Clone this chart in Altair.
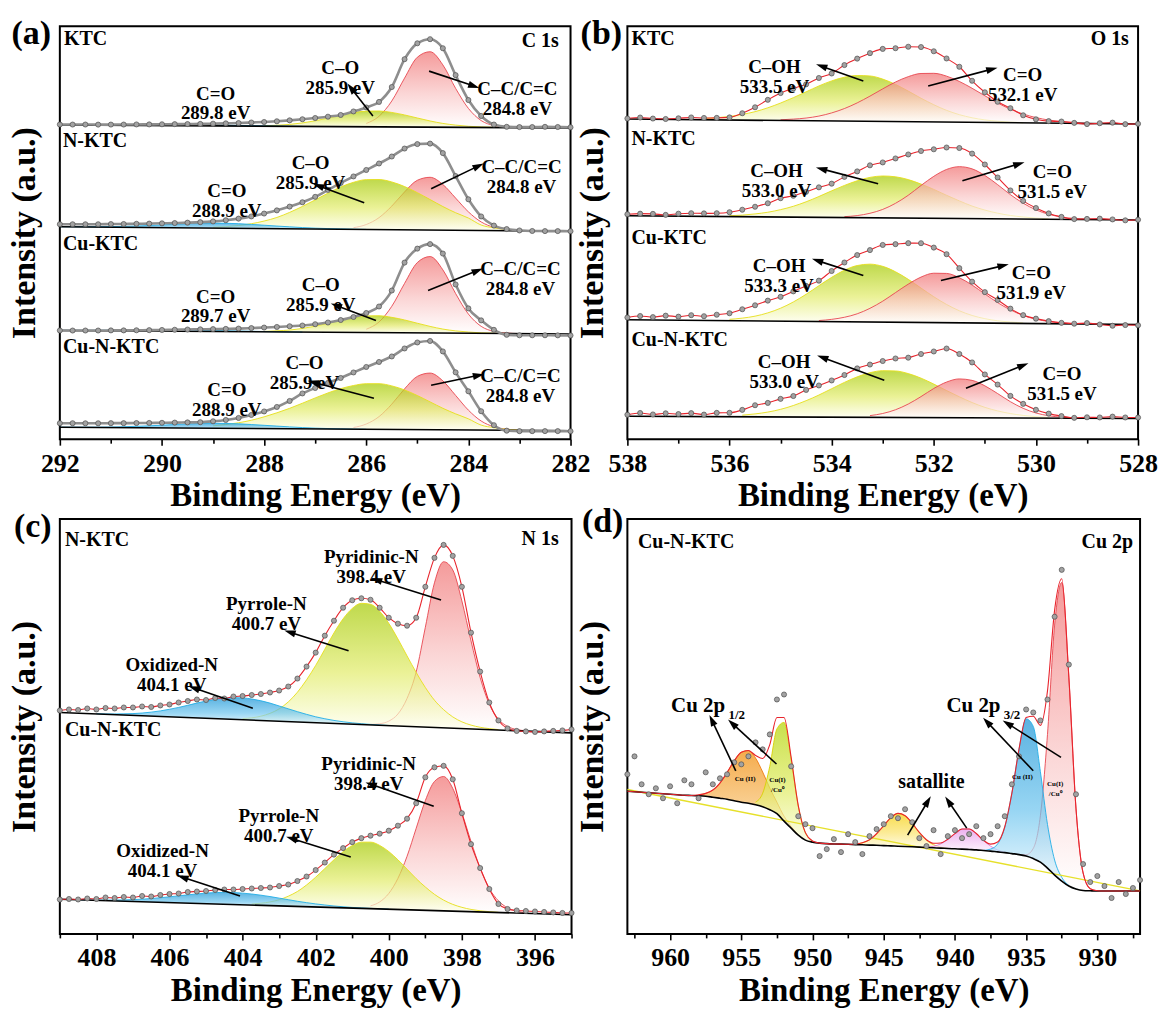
import math
import altair as alt
import pandas as pd

FONT = "Liberation Serif"

# ============ (a) C 1s  : grid 292 -> 282, step 0.25 eV ============
C1S_START, C1S_STEP = 292.0, 0.25
C1S_TICKS = list(range(282, 293))
C1S = {
    "KTC": {
        "bg": (292.0, 315.0, 282.0, 312.0),
        "meas": [0.5, 0.5, 0.6, 0.6, 0.7, 0.8, 1.0, 1.1, 1.3, 1.5, 1.7, 1.9, 2.2, 2.6, 3.0, 3.6, 4.2, 5.0, 6.0, 7.2,
                 8.5, 9.9, 11.7, 15.3, 19.4, 25.0, 40.0, 68.0, 84.0, 88.2, 79.2, 52.3, 27.4, 11.5, 3.0, 0.8, 0.6, 0.7,
                 1.0, 0.9, 0.7],
        "comps": {
            "red": (286.0, [3.3, 10.6, 26, 49, 70, 75.6, 62.5, 39, 19, 6.9, 2, 0.5, 0]),
            "green": (288.0, [0.4, 1, 1.9, 3.5, 5.7, 8.5, 11.5, 14.1, 15.7, 15.9, 14.5, 12.1, 9.1, 6.2, 3.8, 2.2, 1.1,
                              0.5, 0.2, 0]),
            "blue": (292.0, [0.1, 0.2, 0.3, 0.4, 0.6, 0.8, 1.0, 1.1, 1.2, 1.2, 1.2, 1.1, 1.0, 0.8, 0.6, 0.5, 0.3, 0.2,
                             0.1, 0]),
        },
    },
    "N-KTC": {
        "bg": (292.0, 213.0, 282.0, 208.5),
        "meas": [2.5, 2.6, 2.7, 2.8, 3.1, 3.3, 3.6, 3.9, 4.3, 4.7, 5.2, 5.8, 6.7, 8.0, 9.7, 12, 15, 18.3, 22.2, 26.7,
                 32.2, 39.3, 46.4, 53, 59.6, 66.2, 73.3, 81.4, 86, 86.6, 77.2, 54.3, 31.1, 14, 5, 1.6, 0.3, -0.1, -0.1,
                 0, 0],
        "comps": {
            "red": (286.25, [1.6, 4.9, 11.9, 23.6, 37.9, 49.7, 52.8, 45.7, 32.2, 18.5, 8.5, 3.2, 1, 0.2]),
            "green": (289.0, [0.9, 1.5, 2.8, 4.7, 7.5, 11.2, 16.4, 22.5, 29.1, 36, 42.3, 47.1, 49.9, 50.1, 47.8, 43.3,
                              37.3, 30.5, 23.6, 17.5, 12.3, 5.4, 2.7, 1.1, 0.3]),
            "blue": (292.0, [0, 0.1, 0.2, 0.3, 0.55, 0.9, 1.4, 2.0, 2.7, 3.5, 4.2, 4.7, 5, 4.9, 4.6, 4.0, 3.3, 2.6, 1.9,
                             1.3, 0.8, 0.5, 0.3, 0.1, 0]),
        },
    },
    "Cu-KTC": {
        "bg": (292.0, 109.0, 282.0, 105.5),
        "meas": [0, 0, 0.1, 0.2, 0.4, 0.5, 0.7, 0.9, 1.2, 1.5, 1.8, 2.1, 2.4, 2.7, 3.1, 3.7, 4.3, 5.0, 5.8, 6.6, 8.0,
                 9.8, 12.4, 15.5, 19.6, 26.2, 42.3, 70.4, 84.5, 89.1, 79.7, 48.8, 24.9, 13, 3.6, -1.3, -1.7, -1.6,
                 -1.5, -1.5, -1.5],
        "comps": {
            "red": (286.0, [3.3, 10.7, 26.5, 49.5, 70.5, 76.6, 63.4, 39.7, 19.2, 7, 2, 0.5, 0]),
            "green": (288.0, [0.4, 1.1, 2, 3.7, 6, 9, 12.2, 15, 16.7, 16.9, 15.4, 12.9, 9.7, 6.6, 4, 2.3, 1.2, 0.5,
                              0.2, 0]),
            "blue": (292.0, [0.1, 0.2, 0.3, 0.4, 0.6, 0.8, 1.0, 1.1, 1.2, 1.2, 1.2, 1.1, 1.0, 0.8, 0.6, 0.5, 0.3, 0.2,
                             0.1, 0]),
        },
    },
    "Cu-N-KTC": {
        "bg": (292.0, 12.0, 282.0, 8.5),
        "meas": [4, 4.1, 4.1, 4.2, 4.4, 4.5, 4.7, 4.9, 5.1, 5.4, 5.7, 6.0, 7.0, 8.4, 10.5, 13.6, 17.2, 21.8, 27.9, 35.5,
                 41.1, 46.2, 51.3, 56.9, 62.5, 67.6, 73.2, 81.3, 87.4, 89, 78.6, 57.7, 38.8, 18.9, 5, -0.4, -0.8, -0.7,
                 -0.6, -0.5, -0.5],
        "comps": {
            "red": (286.25, [1.7, 5.3, 12.8, 25.4, 40.8, 53.4, 56.8, 49.1, 34.6, 19.9, 9.1, 3.4, 1.1, 0.2]),
            "green": (289.0, [2.4, 3.8, 5.7, 8.3, 11.8, 15.9, 20.5, 25.7, 31.1, 36.2, 40.6, 43.8, 45.7, 45.8, 43.7,
                              39.7, 34.2, 27.9, 21.6, 16.1, 11.2, 5, 2.5, 1, 0.3]),
            "blue": (292.0, [0, 0.1, 0.2, 0.3, 0.55, 0.9, 1.4, 2.0, 2.7, 3.5, 4.2, 4.7, 5, 4.9, 4.6, 4.0, 3.3, 2.6, 1.9,
                             1.3, 0.8, 0.5, 0.3, 0.1, 0]),
        },
    },
}
A_LETTER = [("(a)", 292.56, 406)]
A_SAMPLES = [("KTC", 291.92, 401), ("N-KTC", 291.94, 299), ("Cu-KTC", 291.94, 196), ("Cu-N-KTC", 291.94, 92)]
A_CORE = [("C 1s", 282.23, 399)]
A_PEAKS = [("C–O\n285.9 eV", 286.51, 372.5), ("C=O\n289.8 eV", 288.95, 346.5), ("C–C/C=C\n284.8 eV", 283.04, 351),
           ("C–O\n285.9 eV", 287.09, 276.5), ("C=O\n288.9 eV", 288.73, 249), ("C–C/C=C\n284.8 eV", 282.96, 273),
           ("C–O\n285.9 eV", 286.89, 154.5), ("C=O\n289.7 eV", 288.95, 143), ("C–C/C=C\n284.8 eV", 282.98, 170.5),
           ("C–O\n285.9 eV", 287.21, 76.5), ("C=O\n288.9 eV", 288.73, 49.5), ("C–C/C=C\n284.8 eV", 282.98, 63.5)]
A_ARROWS = [(285.87, 324, 286.30, 352), (284.77, 369, 283.89, 354), (286.04, 237, 286.94, 254),
            (284.73, 251, 283.80, 274), (285.81, 119, 286.59, 134), (284.79, 149, 283.82, 169),
            (285.85, 41, 287.04, 57), (284.73, 54, 283.80, 64)]

# ============ (b) O 1s : grid 538 -> 528, step 0.25 eV ============
O1S_START, O1S_STEP = 538.0, 0.25
O1S_TICKS = list(range(528, 539))
O1S = {
    "KTC": {
        "bg": (538.0, 321.0, 528.0, 316.0),
        "meas": [0.5, 1.6, 0.7, 0.4, 1.2, 2.2, 1.8, 2.0, 2.6, 6.9, 13, 20.6, 27.5, 32.3, 36.5, 43, 47.6, 56.2, 62.8,
                 68.4, 72.8, 73.6, 75.2, 75, 70.9, 63.8, 55.6, 41.7, 30.3, 20.9, 14.6, 7.6, 3.7, 2.0, 1.7, 0.5, -0.6,
                 0.4, 1.1, -0.3, 0.2],
        "comps": {
            "green": (536.5, [1.2, 2.1, 3.6, 5.7, 8.6, 12.6, 17.5, 23, 29, 35, 40.2, 44, 45.8, 45.5, 42.5, 37.3, 30.7,
                              23.7, 17.3, 11.8, 7.6, 4.6, 2.6, 1.4, 0.6, 0.2]),
            "red": (535.0, [0.7, 1.5, 2.7, 4.8, 8.1, 12.6, 18.4, 25.3, 32.7, 39.7, 45.2, 48.5, 48.8, 46.1, 40.9, 34.2,
                            26.8, 19.7, 13.6, 8.9, 5.4, 3.1, 1.7, 0.8, 0.4]),
        },
    },
    "N-KTC": {
        "bg": (538.0, 224.0, 528.0, 219.7),
        "meas": [1.5, 2.2, 2.1, 1.2, 2.5, 3.1, 3.0, 3.3, 4.4, 7.0, 10.1, 13.7, 18.9, 21.4, 25.5, 30.1, 33.9, 40.8,
                 46.4, 52.6, 55.6, 59.7, 63.8, 67.4, 69.2, 71.1, 70.7, 65.2, 54.4, 41.5, 28.6, 18.2, 11.2, 5.9, 2.5,
                 0.4, 0.7, 1.1, 0.4, -0.4, 0.3],
        "comps": {
            "green": (536.0, [0.9, 1.6, 2.9, 4.7, 7.4, 10.9, 15.5, 20.9, 26.7, 32.2, 37, 40.5, 42, 41.3, 38.6, 34.2,
                              29, 23.2, 17.7, 12.6, 8.7, 5.7, 3.5, 2.1, 1.1, 0.5]),
            "red": (533.75, [0.9, 2.1, 4.5, 8.5, 14.7, 22.9, 32.8, 42.1, 49.1, 52, 49.9, 43.4, 34.3, 24.4, 15.9, 9.4,
                             5, 2.4, 1, 0.4]),
        },
    },
    "Cu-KTC": {
        "bg": (538.0, 119.7, 528.0, 115.0),
        "meas": [2.3, 3.9, 2.9, 4.5, 3.6, 5.2, 4.3, 5.9, 7.5, 11.6, 15.7, 20.5, 24.4, 30, 35.6, 41, 50.8, 59.4, 67,
                 72.1, 77.4, 78.3, 79.4, 79.5, 75.2, 68.7, 54.8, 41.4, 31, 23.3, 14.7, 8.3, 4.9, 2.5, 0.9, 0.2, 0.9,
                 -0.4, -1.5, -0.7, -0.8],
        "comps": {
            "green": (536.0, [1.4, 2.7, 4.8, 8.2, 13, 19.4, 27.2, 35.9, 44.4, 51.7, 56.5, 58, 55.9, 50.6, 43.1, 34.5,
                              25.9, 18.3, 12.1, 7.5, 4.4, 2.4, 1.3, 0.6]),
            "red": (534.25, [1, 2.3, 4.5, 8.1, 13.7, 21, 29.7, 38.3, 45.5, 49.5, 49.4, 45.2, 38, 29.2, 20.6, 13.5, 8,
                             4.3, 2.2, 1, 0.4]),
        },
    },
    "Cu-N-KTC": {
        "bg": (538.0, 23.0, 528.0, 20.7),
        "meas": [1.5, 3.3, 1.9, 3.1, 2.4, 3.4, 2.0, 3.8, 3.9, 6.9, 11.6, 14, 18.1, 21, 27.2, 31.7, 36.8, 42.3, 49,
                 52.9, 56.5, 59.1, 60, 63.7, 66.3, 69.3, 63.9, 55.5, 43.5, 33.4, 22.1, 14.2, 8.3, 4.5, 2.1, 0.4, 1,
                 0.9, 1.8, 1, 1],
        "comps": {
            "green": (535.75, [1.6, 2.9, 4.8, 7.6, 11.5, 16.4, 22.1, 28.5, 34.9, 40.5, 44.7, 46.8, 46.6, 44, 39.5,
                               33.6, 27.2, 21, 15.3, 10.5, 7, 4.4, 2.6, 1.4, 0.7]),
            "red": (533.25, [1.7, 3.9, 7.7, 13.5, 21, 29.2, 35.7, 38.9, 37.5, 32.1, 24.4, 16.3, 9.7, 5.1, 2.4, 1,
                             0.3]),
        },
    },
}
B_LETTER = [("(b)", 538.51, 406)]
B_SAMPLES = [("KTC", 537.92, 401), ("N-KTC", 537.92, 301), ("Cu-KTC", 537.92, 202), ("Cu-N-KTC", 537.92, 99)]
B_CORE = [("O 1s", 528.18, 401)]
B_PEAKS = [("C–OH\n533.5 eV", 535.12, 373.5), ("C=O\n532.1 eV", 530.26, 365),
           ("C–OH\n533.0 eV", 535.08, 268.5), ("C=O\n531.5 eV", 529.68, 267.5),
           ("C–OH\n533.3 eV", 535.03, 173.5), ("C=O\n531.9 eV", 530.09, 166.5),
           ("C–OH\n533.0 eV", 534.93, 77.5), ("C=O\n531.5 eV", 529.49, 65.5)]
B_ARROWS = [(533.38, 359, 534.20, 374), (532.11, 354, 530.86, 371), (533.09, 256, 534.20, 271),
            (531.44, 259, 530.33, 276), (533.38, 164, 534.28, 179), (531.86, 159, 530.64, 174),
            (532.97, 59, 534.18, 82), (531.37, 51, 530.25, 74)]

# ============ (c) N 1s : grid 409 -> 395, step 0.25 eV (measured given absolute) ============
N1S_START, N1S_STEP = 409.0, 0.25
N1S_TICKS = list(range(395, 410))
N1S = {
    "N-KTC": {
        "bg": (409.0, 222.0, 395.0, 201.5),
        "meas": [224, 225, 224.5, 226, 225, 226.5, 226, 227, 227, 228, 227.5, 229, 230, 232, 233.5, 235, 234.5, 236.5,
                 236, 238, 238.5, 239.5, 240.5, 242, 244, 248, 256, 268, 282, 299, 314, 327, 334.5, 336.5, 335, 327,
                 317, 311, 309, 317, 348, 377, 390, 379, 348, 302, 263, 232, 214, 206, 203.5, 203, 202.5, 203, 203.5,
                 204, 205],
        "comps": {
            "red": (400.5, [0.5, 1.5, 4.5, 12, 28, 55, 100, 145, 166.5, 158.7, 127.9, 88.2, 51.8, 25.5, 10.8, 3.9,
                            1.2, 0.3]),
            "green": (404.0, [1.2, 2.3, 4.3, 7.5, 12.4, 19.7, 29.8, 42.6, 57.4, 74, 90.7, 105.2, 116, 121.5, 120.9,
                              114.2, 102.5, 87.2, 70.6, 54.4, 39.7, 27.3, 18.2, 11.3, 6.7, 3.8, 2, 1, 0.4]),
            "blue": (408.0, [0.2, 0.4, 0.7, 1.2, 1.8, 2.7, 4, 5.6, 7.6, 9.8, 12.3, 14.9, 17.3, 19.4, 21, 21.8, 21.9,
                             21.2, 19.8, 17.8, 15.3, 12.8, 10.3, 8, 5.9, 4.3, 3, 2, 1.3, 0.8, 0.5, 0.3, 0.1]),
        },
    },
    "Cu-N-KTC": {
        "bg": (409.0, 34.7, 395.0, 19.2),
        "meas": [34.5, 35, 34.5, 35.5, 35, 36.5, 36, 37, 36.5, 38, 37.5, 39, 40, 40.5, 42, 42.5, 43, 44, 44.5, 44.5,
                 45, 45.5, 46, 46.5, 48, 49.5, 53, 57.5, 64, 71.5, 79.5, 86, 92, 96, 98.5, 100.5, 103.5, 108.5, 115.5,
                 131, 157, 167, 168.5, 155, 121, 90, 66, 45, 30, 25, 23.5, 23, 22.5, 22, 21.5, 21, 21],
        "comps": {
            "red": (400.5, [2.8, 7, 15.8, 31.2, 53.6, 82, 110, 129.5, 134.7, 123.1, 98.8, 70.5, 43.9, 23.9, 11.7, 5,
                            1.9, 0.6]),
            "green": (403.75, [1.1, 2.1, 3.7, 6.2, 10, 15, 21.8, 29.9, 38.8, 47.9, 56.3, 62.7, 66.4, 66.7, 63.7,
                               57.8, 49.8, 40.7, 31.5, 23.4, 16.3, 10.8, 6.8, 4.1, 2.3, 1.2, 0.6, 0.2]),
            "blue": (408.5, [0.1, 0.2, 0.4, 0.6, 0.9, 1.3, 1.9, 2.6, 3.5, 4.6, 5.8, 7, 8.3, 9.5, 10.6, 11.4, 11.9, 12,
                             11.7, 11.1, 10.2, 9.1, 7.8, 6.5, 5.2, 4.1, 3.1, 2.3, 1.6, 1.1, 0.7, 0.5, 0.3, 0.2, 0.1]),
        },
    },
}
C_LETTER = [("(c)", 409.74, 408)]
C_SAMPLES = [("N-KTC", 408.86, 395), ("Cu-N-KTC", 408.86, 204)]
C_CORE = [("N 1s", 395.35, 396)]
C_PEAKS = [("Pyridinic-N\n398.4 eV", 400.48, 377.7), ("Pyrrole-N\n400.7 eV", 403.35, 331),
           ("Oxidized-N\n404.1 eV", 405.94, 269.2), ("Pyridinic-N\n398.4 eV", 400.55, 170.1),
           ("Pyrrole-N\n400.7 eV", 403.01, 118.5), ("Oxidized-N\n404.1 eV", 406.19, 82.8)]
C_ARROWS = [(398.57, 334.7, 400.34, 355), (401.10, 283.8, 402.71, 302.5), (403.72, 226.2, 405.33, 246.5),
            (398.77, 127.9, 400.49, 150), (401.04, 77, 402.66, 95.7), (404.07, 38, 405.64, 56.7)]

# ============ (d) Cu 2p : grid 963 -> 927, step 0.5 eV (absolute) ============
CU_START, CU_STEP = 963.0, 0.5
CU_TICKS = [927.5 + 2.5 * k for k in range(15)]
CU_SHIRLEY = [143, 142.5, 142, 141.5, 141, 140.5, 140, 139.5, 139, 138.8, 138.5, 138, 137, 136, 135, 133.5, 132, 131,
              129.5, 127.5, 124.5, 120.5, 113, 106, 99, 94, 92, 91, 90.5, 90.2, 90, 89.8, 89.5, 89.3, 89, 88.9, 88.5,
              88.2, 87.9, 87.6, 87.3, 87, 86.6, 86.3, 86, 85.6, 85.3, 85, 84.6, 84.2, 83.6, 83, 82.2, 81.5, 80.5,
              79.5, 78, 75.5, 72, 66, 59, 53, 48, 45, 43.5, 43.2, 43, 43, 43, 43, 43, 43, 43]
CU_MEAS = [160, 178, 150, 140, 146, 136, 148, 131, 154, 150, 136, 162, 150, 156, 160, 172, 170, 178, 192, 185, 200,
           235, 240, 168, 118, 110, 106, 78, 85, 95, 82, 100, 92, 80, 98, 105, 110, 118, 116, 125, 112, 96, 88, 104,
           80, 98, 104, 96, 100, 108, 96, 100, 108, 118, 150, 178, 225, 222, 214, 235, 318, 365, 270, 140, 70, 52,
           58, 48, 36, 52, 40, 46, 54]
CU_LINEAR_BG = [(963.0, 144.8), (927.0, 43.1)]
CU_COMPS = {
    "orange": (958.0, [1, 2.9, 7.2, 15.2, 26.8, 40, 50.1, 52.8, 46.8, 34.8, 21.8, 11.5, 5, 1.9, 0.6, 0.2]),
    "lime": (954.0, [2.6, 13.5, 43.5, 85, 99, 69, 29, 7.3, 1.2]),
    "yellow": (947.0, [0.6, 2, 5.3, 11.5, 20, 28.4, 32.9, 30.9, 23.6, 14.7, 7.4, 3.1, 1, 0.3]),
    "violet": (942.0, [0.4, 1.5, 4.2, 9, 15.2, 20.1, 20.6, 16.4, 10.2, 5, 1.9, 0.5]),
    "red": (935.5, [0.1, 1.4, 10.2, 46.4, 134, 250.6, 299.3, 209, 81, 17.6, 2.1, 0.3]),
    "blue": (938.0, [0.1, 2, 8, 25.4, 60.6, 105.6, 137.6, 132.5, 90.7, 43.7, 15, 3.7, 0.6]),
}
D_LETTER = [("(d)", 964.74, 413)]
D_SAMPLES = [("Cu-N-KTC", 962.26, 393.3)]
D_CORE = [("Cu 2p", 927.49, 393.3)]
D_BIG = [("Cu 2p", 959.93, 228), ("Cu 2p", 940.60, 228)]
D_SUB = [("1/2", 955.9, 219), ("3/2", 936.57, 219)]
D_SAT = [("satallite", 941.65, 152)]
D_TINY = [("Cu (II)", 954.73, 155), ("Cu(I)\n/Cu⁰", 952.46, 154), ("Cu (II)", 935.26, 157),
          ("Cu(I)\n/Cu⁰", 932.96, 150.5)]
D_ARROWS = [(955.39, 163.5, 957.07, 214.3), (952.53, 170.3, 955.64, 211), (934.50, 163.5, 937.75, 212.6),
            (932.55, 177, 936.31, 211), (943.32, 99, 941.90, 133), (939.17, 106, 940.46, 133)]

# ---------------- styles ----------------
STYLE = {
    "red": (["#f07070", "#f9c4c4", "#ffffff"], "#e8474f"),
    "green": (["#a4c900", "#e2ec6a", "#fffff0"], "#e6df1a"),
    "blue": (["#1592d4", "#6cc4ee", "#e9f8ff"], "#22ade6"),
    "orange": (["#f08800", "#f6b65a", "#fff0d8"], "#ee7a10"),
    "lime": (["#b2d300", "#dfeb5e", "#fbfde0"], "#d8d000"),
    "yellow": (["#f6cd00", "#fae36a", "#fffbe0"], "#eec200"),
    "violet": (["#e38ee8", "#f2c6f4", "#fdf2fd"], "#d77ddc"),
}


def grad(colors):
    return alt.Gradient(gradient="linear",
                        stops=[alt.GradientStop(color=colors[0], offset=0),
                               alt.GradientStop(color=colors[1], offset=0.55),
                               alt.GradientStop(color=colors[2], offset=1)],
                        x1=0, x2=0, y1=0, y2=1)


def bg_at(bg, e):
    e_l, b_l, e_r, b_r = bg
    return b_l + (b_r - b_l) * (e_l - e) / (e_l - e_r)


def stacked_frames(start, step, spectra, relative=True):
    meas, comps, bases = [], [], []
    for name, s in spectra.items():
        bg = s["bg"]
        for i, v in enumerate(s["meas"]):
            e = round(start - i * step, 3)
            meas.append({"spec": name, "E": e, "y": v + bg_at(bg, e) if relative else v})
        for comp, (c0, vals) in s["comps"].items():
            for j, v in enumerate(vals):
                e = round(c0 - j * step, 3)
                b = bg_at(bg, e)
                comps.append({"spec": name, "comp": comp, "E": e, "y": b + v, "y0": b})
        bases.append({"spec": name, "E": bg[0], "y": bg[1]})
        bases.append({"spec": name, "E": bg[2], "y": bg[3]})
    return pd.DataFrame(meas), pd.DataFrame(comps), pd.DataFrame(bases)


def cu_frames():
    grid = [round(CU_START - i * CU_STEP, 3) for i in range(len(CU_SHIRLEY))]
    base_of = dict(zip(grid, CU_SHIRLEY))
    comps = []
    for comp, (c0, vals) in CU_COMPS.items():
        for j, v in enumerate(vals):
            e = round(c0 - j * CU_STEP, 3)
            b = base_of[e]
            comps.append({"spec": "Cu-N-KTC", "comp": comp, "E": e, "y": b + v, "y0": b, "h": v})
    comp_df = pd.DataFrame(comps)
    meas = pd.DataFrame({"spec": "Cu-N-KTC", "E": grid[:len(CU_MEAS)], "y": CU_MEAS})
    base = pd.DataFrame({"spec": "Cu-N-KTC", "E": grid, "y": CU_SHIRLEY})
    sums = comp_df.groupby("E")["h"].sum()
    env = pd.DataFrame({"spec": "Cu-N-KTC", "E": grid,
                        "y": [b + float(sums.get(e, 0.0)) for e, b in zip(grid, CU_SHIRLEY)]})
    lin = pd.DataFrame({"spec": "lin", "E": [p[0] for p in CU_LINEAR_BG], "y": [p[1] for p in CU_LINEAR_BG]})
    return meas, comp_df, base, env, lin


ARROW_PATH = "M0,-1L0.62,1L-0.62,1Z"


def text_df(items):
    return pd.DataFrame([{"t": t, "E": e, "y": y} for t, e, y in items])


def make_panel(xdom, ydom, w, h, ticks, major, comp_df, order, meas_df, base_df, env_df, text_groups, arrows,
               extra_lines=None, base_interp="linear", env_color="#e8242c", env_width=1.1):
    X = alt.X("E:Q", scale=alt.Scale(domain=[min(xdom), max(xdom)], reverse=True, nice=False, zero=False),
              axis=alt.Axis(values=ticks, labelExpr=f"datum.value % {major} === 0 ? datum.label : ''",
                            tickSize={"condition": {"test": f"datum.value % {major} === 0", "value": 6}, "value": 4},
                            tickColor="black", tickWidth=1.6, domain=False, grid=False,
                            labelFont=FONT, labelFontSize=26, labelFontWeight="bold", labelColor="black",
                            labelPadding=5, labelFlush=False, labelOverlap=False,
                            title="Binding Energy (eV)", titleFont=FONT, titleFontSize=33, titleFontWeight="bold",
                            titleColor="black", titlePadding=4))
    Y = alt.Y("y:Q", scale=alt.Scale(domain=list(ydom), nice=False, zero=False),
              axis=alt.Axis(title="Intensity (a.u.)", labels=False, ticks=False, domain=False, grid=False,
                            titleFont=FONT, titleFontSize=34, titleFontWeight="bold", titleColor="black",
                            titlePadding=18))
    layers = []
    for comp in order:
        fills, line_c = STYLE[comp]
        sub = comp_df[comp_df["comp"] == comp]
        layers.append(alt.Chart(sub).mark_area(interpolate="monotone", color=grad(fills),
                                               line={"color": line_c, "strokeWidth": 0.9}).encode(
            x=X, y=Y, y2=alt.Y2("y0:Q"), detail="spec:N"))
    if extra_lines is not None:
        layers.append(alt.Chart(extra_lines).mark_line(color="#e6e02a", strokeWidth=1.4).encode(x=X, y=Y))
    layers.append(alt.Chart(base_df).mark_line(color="black", strokeWidth=1.6, interpolate=base_interp).encode(
        x=X, y=Y, detail="spec:N"))
    layers.append(alt.Chart(env_df).mark_line(color=env_color, strokeWidth=env_width, interpolate="monotone").encode(
        x=X, y=Y, detail="spec:N"))
    layers.append(alt.Chart(meas_df).mark_circle(size=26, color="#a2a2a2", stroke="#4f4f4f", strokeWidth=0.7,
                                                 opacity=1).encode(x=X, y=Y))
    ppe = w / (max(xdom) - min(xdom))
    ppu = h / (ydom[1] - ydom[0])
    rows, heads = [], []
    for e1, y1, e2, y2 in arrows:
        rows.append({"E": e1, "y": y1, "E2": e2, "y2": y2})
        ang = math.degrees(math.atan2((e1 - e2) * ppe, (y2 - y1) * ppu)) % 360
        heads.append({"E": e2, "y": y2, "ang": ang})
    layers.append(alt.Chart(pd.DataFrame(rows)).mark_rule(color="black", strokeWidth=1.6).encode(
        x=X, y=Y, x2=alt.X2("E2:Q"), y2=alt.Y2("y2:Q")))
    layers.append(alt.Chart(pd.DataFrame(heads)).mark_point(shape=ARROW_PATH, filled=True, color="black", size=130,
                                                            opacity=1).encode(
        x=X, y=Y, angle=alt.Angle("ang:Q", scale=None)))
    for items, size, align, lh in text_groups:
        layers.append(alt.Chart(text_df(items)).mark_text(font=FONT, fontWeight="bold", color="black", fontSize=size,
                                                          align=align, baseline="middle", lineBreak="\n",
                                                          lineHeight=lh).encode(
            x=X, y=Y, text="t:N"))
    return alt.layer(*layers).properties(width=w, height=h)


# ---- panel (a)
a_meas, a_comp, a_base = stacked_frames(C1S_START, C1S_STEP, C1S)
pa = make_panel((292, 282), (0, 414), 512, 414, C1S_TICKS, 2, a_comp, ["red", "green", "blue"], a_meas, a_base,
                a_meas, [(A_LETTER, 34, "center", 34), (A_SAMPLES, 20, "left", 20), (A_CORE, 20, "right", 20),
                         (A_PEAKS, 19, "center", 20)], A_ARROWS, env_color="#8e8e8e", env_width=2.6)
# ---- panel (b)
b_meas, b_comp, b_base = stacked_frames(O1S_START, O1S_STEP, O1S)
pb = make_panel((538, 528), (0, 414), 512, 414, O1S_TICKS, 2, b_comp, ["green", "red"], b_meas, b_base, b_meas,
                [(B_LETTER, 34, "center", 34), (B_SAMPLES, 20, "left", 20), (B_CORE, 20, "right", 20),
                 (B_PEAKS, 19, "center", 20)], B_ARROWS)
# ---- panel (c)
c_meas, c_comp, c_base = stacked_frames(N1S_START, N1S_STEP, N1S, relative=False)
pc = make_panel((409, 395), (0, 416), 513, 416, N1S_TICKS, 2, c_comp, ["red", "green", "blue"], c_meas, c_base,
                c_meas, [(C_LETTER, 34, "center", 34), (C_SAMPLES, 20, "left", 20), (C_CORE, 20, "right", 20),
                         (C_PEAKS, 19, "center", 20)], C_ARROWS)
# ---- panel (d)
d_meas, d_comp, d_base, d_env, d_lin = cu_frames()
pdd = make_panel((963, 927), (0, 416), 514, 416, CU_TICKS, 5, d_comp,
                 ["orange", "lime", "yellow", "violet", "red", "blue"], d_meas, d_base, d_env,
                 [(D_LETTER, 34, "center", 34), (D_SAMPLES, 20, "left", 20), (D_CORE, 20, "right", 20),
                  (D_BIG, 21, "left", 21), (D_SUB, 13, "left", 13), (D_SAT, 20, "center", 20),
                  (D_TINY, 7, "center", 10)], D_ARROWS,
                 extra_lines=d_lin, base_interp="monotone")

chart = alt.concat(pa, pb, pc, pdd, columns=2, spacing={"row": 80, "column": 56}, bounds="flush").properties(
    padding={"left": 7, "top": 14, "right": 4, "bottom": 0}, background="white"
).configure_view(stroke="black", strokeWidth=2)

chart.save("out.html", embed_options={"renderer": "svg", "actions": False})
